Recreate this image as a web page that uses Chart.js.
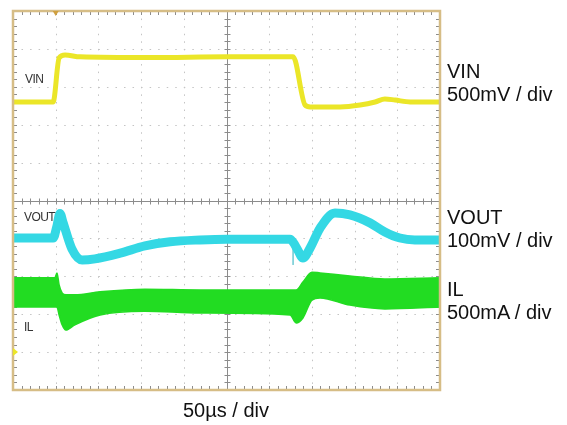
<!DOCTYPE html>
<html>
<head>
<meta charset="utf-8">
<script src="https://cdn.jsdelivr.net/npm/chart.js@4/dist/chart.umd.min.js"></script>
<style>
  body { margin: 0; background: #fff; }
  #wrap { position: relative; width: 567px; height: 425px; font-family: "Liberation Sans", Arial, sans-serif; }
  .lbl { position: absolute; color: #111; font-size: 20px; line-height: 23px; white-space: nowrap; }
  .tag { position: absolute; color: #333; font-size: 12px; letter-spacing: -0.6px; white-space: nowrap; }
</style>
</head>
<body>
<div id="wrap">
  <canvas id="scope" width="567" height="425"></canvas>
  <div class="tag" style="left:25px; top:72px;">VIN</div>
  <div class="tag" style="left:24px; top:210px;">VOUT</div>
  <div class="tag" style="left:24px; top:320px;">IL</div>
  <div class="lbl" style="left:447px; top:60px;">VIN<br>500mV / div</div>
  <div class="lbl" style="left:447px; top:206px;">VOUT<br>100mV / div</div>
  <div class="lbl" style="left:447px; top:278px;">IL<br>500mA / div</div>
  <div class="lbl" style="left:183px; top:399px;">50µs / div</div>
</div>
<script>
// time axis in divisions (50us/div), values in screen divisions
const vinT = [0, 0.94, 1.08, 1.22, 1.57, 3.21, 5.01, 6.56, 6.84, 6.96, 7.66, 8.13, 8.48, 8.71, 8.95, 9.30, 10];
const vinV = [7.60, 7.60, 8.76, 8.84, 8.79, 8.77, 8.79, 8.79, 7.52, 7.47, 7.47, 7.52, 7.60, 7.68, 7.65, 7.60, 7.60];

const voutT = [0, 0.94, 1.03, 1.10, 1.17, 1.38, 1.62, 1.92, 2.51, 3.09, 3.68, 4.38, 5.01, 6.49, 6.56, 6.67, 6.79, 6.96, 7.19, 7.54, 7.89, 8.36, 8.71, 9.06, 9.41, 10];
const voutV = [4.01, 4.01, 4.33, 4.66, 4.43, 3.72, 3.43, 3.46, 3.61, 3.80, 3.91, 3.96, 3.98, 3.98, 3.90, 3.69, 3.48, 3.75, 4.27, 4.67, 4.62, 4.41, 4.17, 4.01, 3.96, 3.96];
const voutGlitchT = [6.56, 6.56];
const voutGlitchV = [3.90, 3.30];

const ilT = [0, 0.98, 1.03, 1.08, 1.15, 1.24, 1.45, 2.04, 3.09, 4.38, 6.49, 6.63, 6.79, 7.00, 7.19, 7.89, 8.71, 10];
const ilHi = [2.96, 2.96, 3.09, 2.77, 2.56, 2.51, 2.51, 2.59, 2.66, 2.64, 2.64, 2.64, 2.85, 3.11, 3.09, 3.01, 2.93, 2.96];
const ilLo = [2.19, 2.19, 2.19, 1.98, 1.72, 1.58, 1.72, 1.98, 2.08, 2.03, 1.98, 1.77, 1.90, 2.37, 2.43, 2.24, 2.14, 2.19];

const divs = [0, 1, 2, 3, 4, 5, 6, 7, 8, 9, 10];

const pts = (t, v) => t.map((x, i) => ({ x: x, y: v[i] }));

// scope graticule: dotted grid, centre cross with ticks, edge ticks, frame
const graticule = {
  id: "graticule",
  beforeDatasetsDraw(chart) {
    const { ctx, chartArea: a, scales: { x, y } } = chart;
    ctx.save();
    ctx.lineWidth = 1;
    ctx.strokeStyle = "#c4c4c4";
    const mx = (x.getPixelForValue(1) - x.getPixelForValue(0)) / 5;
    const my = (y.getPixelForValue(0) - y.getPixelForValue(1)) / 5;
    divs.forEach((d) => {
      if (d === 0 || d === 5 || d === 10) return;
      const px = Math.round(x.getPixelForValue(d)) + 0.5;
      ctx.setLineDash([1.5, my - 1.5]);
      ctx.beginPath(); ctx.moveTo(px, a.top); ctx.lineTo(px, a.bottom); ctx.stroke();
      const py = Math.round(y.getPixelForValue(d)) + 0.5;
      ctx.setLineDash([1.5, mx - 1.5]);
      ctx.beginPath(); ctx.moveTo(a.left, py); ctx.lineTo(a.right, py); ctx.stroke();
    });
    ctx.setLineDash([]);
    ctx.strokeStyle = "#8c8c8c";
    const cx = Math.round(x.getPixelForValue(5)) + 0.5;
    const cy = Math.round(y.getPixelForValue(5)) + 0.5;
    ctx.beginPath();
    ctx.moveTo(cx, a.top); ctx.lineTo(cx, a.bottom);
    ctx.moveTo(a.left, cy); ctx.lineTo(a.right, cy);
    for (let i = 0; i <= 50; i++) {
      const tx = Math.round(a.left + i * mx) + 0.5;
      ctx.moveTo(tx, cy - 3); ctx.lineTo(tx, cy + 3);
      ctx.moveTo(tx, a.top); ctx.lineTo(tx, a.top + 4);
      ctx.moveTo(tx, a.bottom); ctx.lineTo(tx, a.bottom - 4);
      const ty = Math.round(a.bottom - i * my) + 0.5;
      ctx.moveTo(cx - 3, ty); ctx.lineTo(cx + 3, ty);
      ctx.moveTo(a.left, ty); ctx.lineTo(a.left + 4, ty);
      ctx.moveTo(a.right, ty); ctx.lineTo(a.right - 4, ty);
    }
    ctx.stroke();
    ctx.restore();
  },
  afterDatasetsDraw(chart) {
    const { ctx, chartArea: a, scales: { x, y } } = chart;
    ctx.save();
    ctx.strokeStyle = "#d6bd86";
    ctx.lineWidth = 2.5;
    ctx.strokeRect(a.left, a.top, a.right - a.left, a.bottom - a.top);
    // channel 1 ground marker and trigger marker
    const gy = y.getPixelForValue(1);
    ctx.fillStyle = "#ebe628";
    ctx.beginPath(); ctx.moveTo(a.left, gy - 4); ctx.lineTo(a.left + 5, gy); ctx.lineTo(a.left, gy + 4); ctx.fill();
    const tx = x.getPixelForValue(1.0);
    ctx.fillStyle = "#d0a040";
    ctx.beginPath(); ctx.moveTo(tx - 3, a.top); ctx.lineTo(tx + 3, a.top); ctx.lineTo(tx, a.top + 5); ctx.fill();
    ctx.restore();
  }
};

new Chart(document.getElementById("scope"), {
  type: "line",
  data: {
    datasets: [
      { label: "VIN", data: pts(vinT, vinV), borderColor: "#ebe628", borderWidth: 5, fill: false },
      { label: "VOUT", data: pts(voutT, voutV), borderColor: "#34d8e4", borderWidth: 9, fill: false },
      { label: "VOUT glitch", data: pts(voutGlitchT, voutGlitchV), borderColor: "#7fd0d8", borderWidth: 1, fill: false, cubicInterpolationMode: "default", tension: 0 },
      { label: "IL hi", data: pts(ilT, ilHi), borderColor: "#22dc22", borderWidth: 1.5, fill: false },
      { label: "IL lo", data: pts(ilT, ilLo), borderColor: "#22dc22", borderWidth: 1.5, backgroundColor: "#22dc22", fill: "-1" }
    ]
  },
  options: {
    responsive: false,
    animation: false,
    layout: { padding: { left: 13, top: 11, right: 127, bottom: 35 } },
    elements: {
      point: { radius: 0 },
      line: { cubicInterpolationMode: "monotone", borderJoinStyle: "round" }
    },
    scales: {
      x: { type: "linear", min: 0, max: 10, display: false },
      y: { type: "linear", min: 0, max: 10, display: false }
    },
    plugins: { legend: { display: false }, tooltip: { enabled: false } }
  },
  plugins: [graticule]
});
</script>
</body>
</html>
